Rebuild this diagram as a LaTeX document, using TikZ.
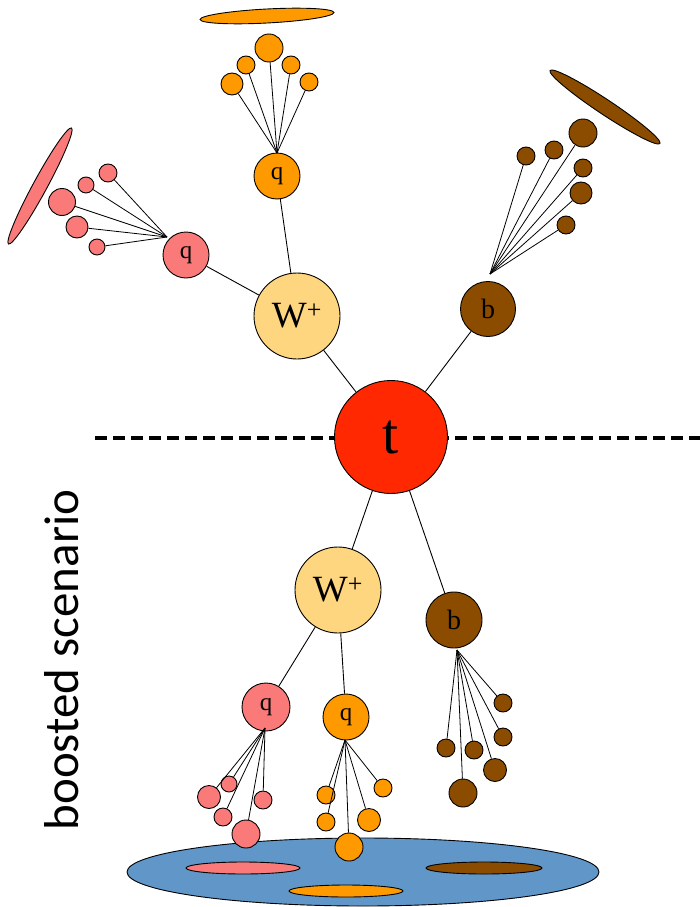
\documentclass[tikz,border=0pt]{standalone}
\usepackage{fontspec}
\setmainfont{Liberation Serif}
\newfontfamily\captionfont{Carlito}
\usetikzlibrary{shapes.geometric}
\definecolor{pinkq}{RGB}{250,122,122}
\definecolor{orangeq}{RGB}{255,153,0}
\definecolor{brownb}{RGB}{140,76,0}
\definecolor{wfill}{RGB}{255,214,128}
\definecolor{topred}{RGB}{255,40,0}
\definecolor{detblue}{RGB}{96,150,200}
\begin{document}
\begin{tikzpicture}[x=1pt,y=-1pt,
  ball/.style={circle,draw=black,line width=0.9pt,inner sep=0pt,minimum size=#1},
  pinkball/.style={ball=#1,fill=pinkq},
  orangeball/.style={ball=#1,fill=orangeq},
  brownball/.style={ball=#1,fill=brownb},
  jetshape/.style={ellipse,draw=black,line width=0.9pt,inner sep=0pt},
  link/.style={line width=0.9pt},
  fan/.style={line width=0.8pt},
  qlabel/.style={font=\fontsize{25}{25}\selectfont},
  blabel/.style={font=\fontsize{28}{28}\selectfont},
]
\useasboundingbox (0,0) rectangle (700,907);

% separation line between resolved and boosted topologies
\draw[line width=3.2pt,dash pattern=on 12pt off 6pt] (95,438) -- (700,438);

% ---------- resolved decay (upper half) ----------
\node[ball=113pt,fill=topred,font=\fontsize{58}{58}\selectfont] (t) at (391,437) {t};
\node[ball=86pt,fill=wfill,font=\fontsize{37}{37}\selectfont] (W1) at (297,316) {W\textsuperscript{+}};
\node[brownball=55pt,blabel] (b1) at (488,309) {b};
\node[pinkball=46pt,qlabel] (qa) at (186,255) {q};
\node[orangeball=46pt,qlabel] (qb) at (277,176) {q};

\draw[link] (W1) -- (t);
\draw[link] (b1) -- (t);
\draw[link] (qa) -- (W1);
\draw[link] (qb) -- (W1);

% jet from the pink quark
\coordinate (ca) at (167,237);
\node[pinkball=18pt] (a1) at (108,173) {};
\node[pinkball=16pt] (a2) at (86,185) {};
\node[pinkball=27pt] (a3) at (62,202) {};
\node[pinkball=22pt] (a4) at (77,227) {};
\node[pinkball=16pt] (a5) at (97,247) {};
\foreach \n in {a1,a2,a3,a4,a5} \draw[fan] (ca) -- (\n);
\node[jetshape,fill=pinkq,minimum width=132pt,minimum height=14pt,rotate=61.5] (ja) at (40,186) {};

% jet from the orange quark
\coordinate (cb) at (277,153);
\node[orangeball=28pt] (o1) at (269,48) {};
\node[orangeball=18pt] (o2) at (246,65) {};
\node[orangeball=18pt] (o3) at (291,65) {};
\node[orangeball=22pt] (o4) at (232,84) {};
\node[orangeball=18pt] (o5) at (309,82) {};
\foreach \n in {o1,o2,o3,o4,o5} \draw[fan] (cb) -- (\n);
\node[jetshape,fill=orangeq,minimum width=134pt,minimum height=14pt,rotate=3] (jb) at (267,16) {};

% jet from the b quark
\coordinate (cc) at (490,274);
\node[brownball=28pt] (r1) at (583,133) {};
\node[brownball=18pt] (r2) at (554,150) {};
\node[brownball=18pt] (r3) at (526,156) {};
\node[brownball=18pt] (r4) at (583,168) {};
\node[brownball=22pt] (r5) at (581,193) {};
\node[brownball=18pt] (r6) at (566,225) {};
\foreach \n in {r1,r2,r3,r4,r5,r6} \draw[fan] (cc) -- (\n);
\node[jetshape,fill=brownb,minimum width=132pt,minimum height=15pt,rotate=-33.6] (jc) at (605,107) {};

% ---------- boosted decay (lower half) ----------
\node[ball=86pt,fill=wfill,font=\fontsize{37}{37}\selectfont] (W2) at (338,590) {W\textsuperscript{+}};
\node[brownball=56pt,blabel] (b2) at (454,620) {b};
\node[pinkball=48pt,qlabel] (qc) at (266,707) {q};
\node[orangeball=46pt,qlabel] (qd) at (346,717) {q};

\draw[link] (t) -- (W2);
\draw[link] (t) -- (b2);
\draw[link] (W2) -- (qc);
\draw[link] (W2) -- (qd);

% single fat jet collecting all decay products
\node[jetshape,fill=detblue,minimum width=472pt,minimum height=68pt] (fat) at (363,872) {};
\node[jetshape,fill=pinkq,minimum width=114pt,minimum height=12pt] (sa) at (243,868) {};
\node[jetshape,fill=brownb,minimum width=116pt,minimum height=12pt] (sc) at (484,868) {};
\node[jetshape,fill=orangeq,minimum width=114pt,minimum height=12pt] (sb) at (346,891) {};

% pink subjet
\coordinate (cd) at (265,728);
\node[pinkball=23pt] (p1) at (209,797) {};
\node[pinkball=16pt] (p2) at (229,784) {};
\node[pinkball=18pt] (p3) at (263,800) {};
\node[pinkball=18pt] (p4) at (223,817) {};
\node[pinkball=28pt] (p5) at (246,834) {};
\foreach \n in {p1,p2,p3,p4,p5} \draw[fan] (cd) -- (\n);

% orange subjet
\coordinate (ce) at (345,740);
\node[orangeball=18pt] (u1) at (326,795) {};
\node[orangeball=18pt] (u2) at (383,788) {};
\node[orangeball=18pt] (u3) at (326,822) {};
\node[orangeball=23pt] (u4) at (369,820) {};
\node[orangeball=28pt] (u5) at (349,847) {};
\foreach \n in {u1,u2,u3,u4,u5} \draw[fan] (ce) -- (\n);

% brown subjet
\coordinate (cf) at (457,650);
\node[brownball=18pt] (v1) at (503,703) {};
\node[brownball=18pt] (v2) at (503,737) {};
\node[brownball=18pt] (v3) at (446,748) {};
\node[brownball=18pt] (v4) at (474,750) {};
\node[brownball=23pt] (v5) at (495,770) {};
\node[brownball=28pt] (v6) at (463,793) {};
\foreach \n in {v1,v2,v3,v4,v5,v6} \draw[fan] (cf) -- (\n);

\node[rotate=90,font=\captionfont\fontsize{49}{49}\selectfont] (cap) at (62,660) {boosted scenario};
\end{tikzpicture}
\end{document}
